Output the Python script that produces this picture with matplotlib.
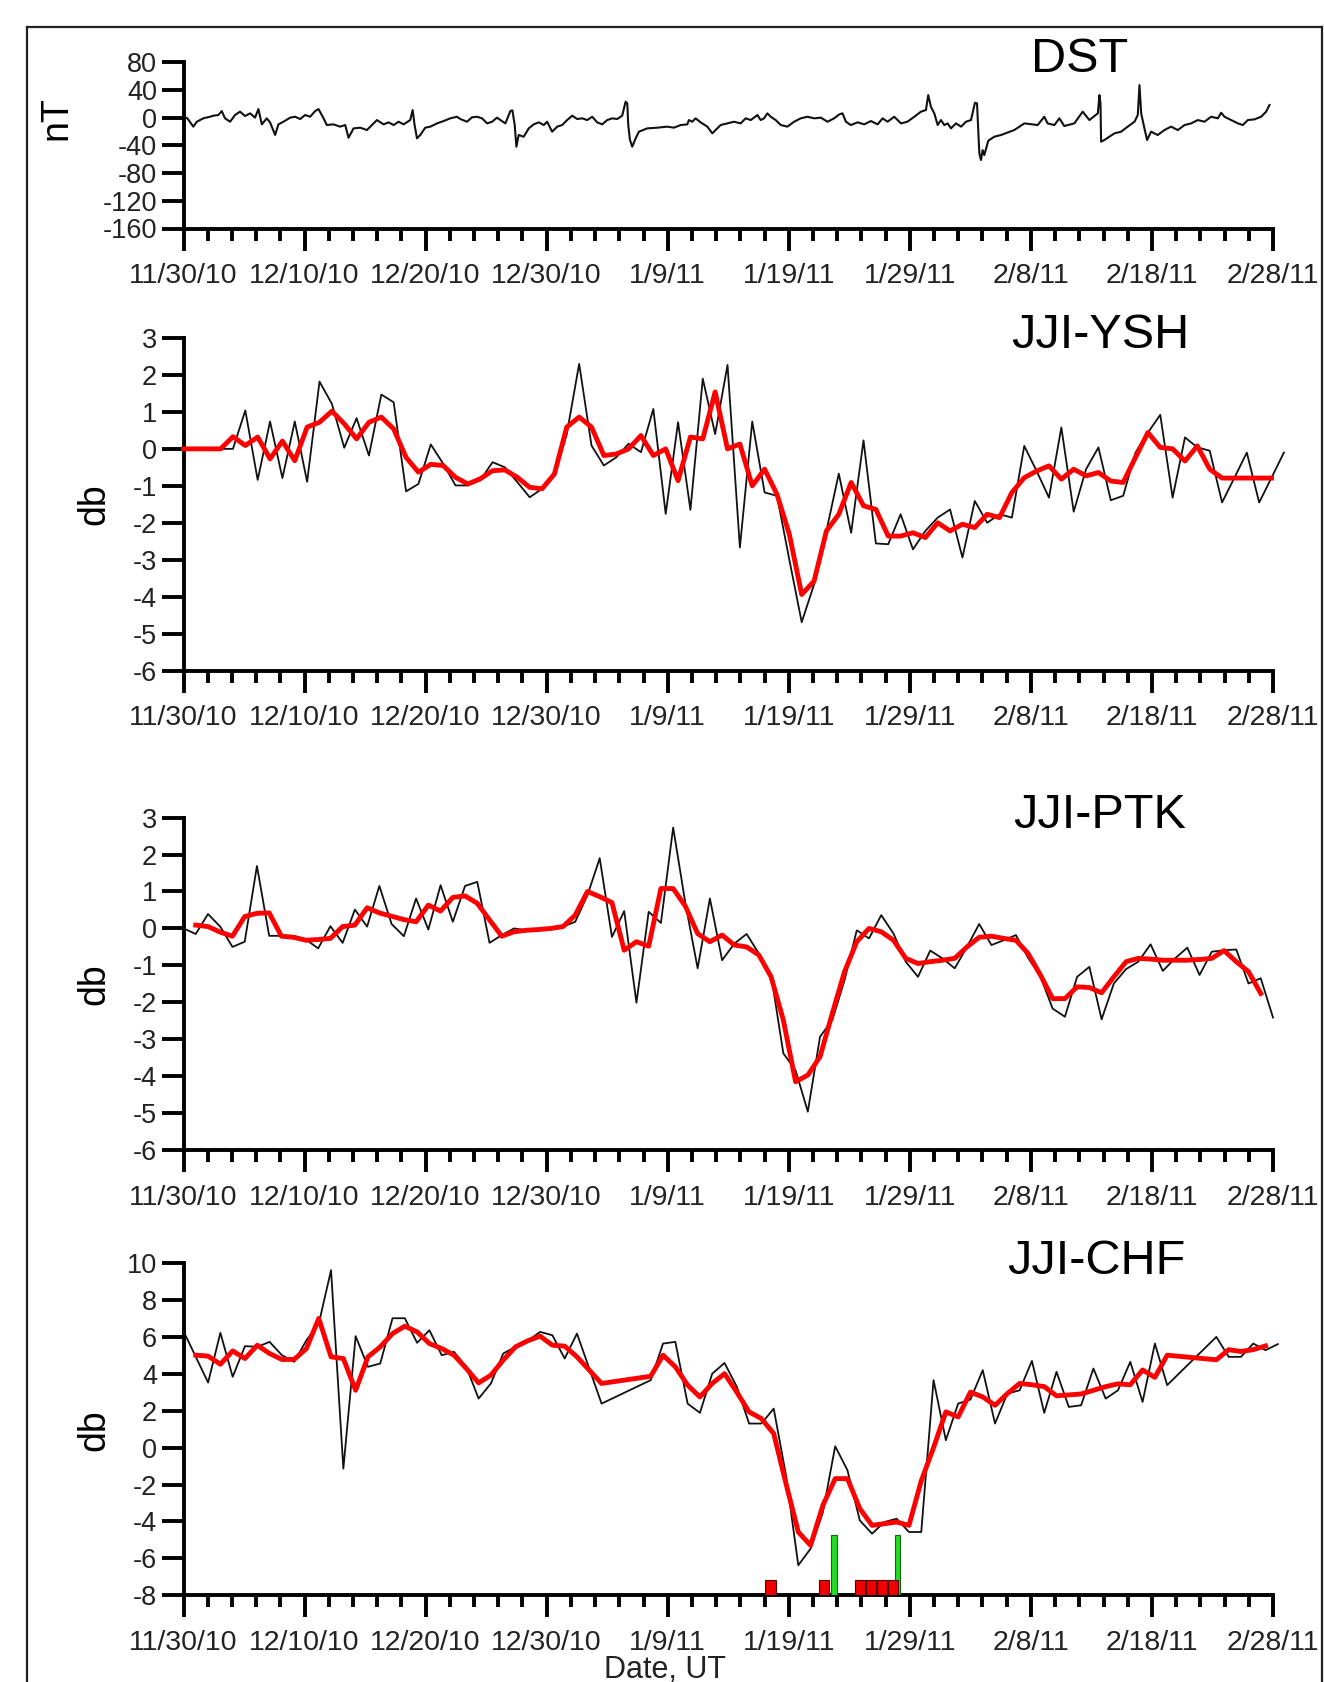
import numpy as np
import matplotlib
matplotlib.use("Agg")
import matplotlib.pyplot as plt
from matplotlib.lines import Line2D
from matplotlib.ticker import MultipleLocator

plt.rcParams['font.family'] = ['Liberation Sans', 'DejaVu Sans']

# ---------------- data ----------------
date_tick_days = [0, 10, 20, 30, 40, 50, 60, 70, 80, 90]
date_tick_labels = ['11/30/10', '12/10/10', '12/20/10', '12/30/10', '1/9/11',
                    '1/19/11', '1/29/11', '2/8/11', '2/18/11', '2/28/11']

# DST index (days since 11/30/10, nT)
dst_day = [0.0, 0.32, 0.81, 1.09, 1.64, 2.19, 2.47, 2.88, 3.16, 3.43, 3.85, 4.26, 4.67, 5.09,
           5.50, 5.91, 6.19, 6.47, 6.88, 7.15, 7.57, 7.84, 8.26, 8.81, 9.22, 9.64, 10.05,
           10.46, 10.88, 11.15, 11.57, 11.84, 12.39, 12.94, 13.36, 13.63, 14.05, 14.6, 15.15,
           15.56, 15.98, 16.53, 16.94, 17.36, 17.77, 18.18, 18.73, 18.93, 19.09, 19.29, 19.56,
           19.97, 20.39, 20.94, 21.49, 22.04, 22.59, 22.87, 23.42, 23.83, 24.25, 24.66, 25.08,
           25.49, 25.9, 26.18, 26.59, 27.0, 27.17, 27.36, 27.5, 27.69, 28.1, 28.52, 28.93,
           29.35, 29.76, 30.04, 30.45, 30.87, 31.28, 31.69, 32.11, 32.52, 32.93, 33.35, 33.76,
           34.17, 34.59, 35.0, 35.42, 35.83, 36.24, 36.52, 36.66, 36.74, 36.88, 37.07, 37.35,
           37.62, 38.31, 39.14, 39.96, 40.51, 41.07, 41.62, 41.75, 42.03, 42.3, 42.72, 43.27,
           43.68, 43.96, 44.37, 44.93, 45.48, 46.03, 46.44, 46.86, 47.41, 47.68, 47.96, 48.23,
           48.51, 48.92, 49.34, 49.89, 50.44, 50.99, 51.54, 52.1, 52.65, 53.2, 53.75, 54.17,
           54.44, 54.72, 55.13, 55.68, 56.23, 56.78, 57.34, 57.75, 58.16, 58.71, 59.27, 59.8,
           60.37, 60.92, 61.33, 61.52, 61.74, 62.02, 62.3, 62.57, 62.85, 63.12, 63.4, 63.81,
           64.23, 64.64, 65.05, 65.38, 65.55, 65.74, 65.88, 66.01, 66.15, 66.48, 66.98, 67.53,
           68.63, 69.46, 70.56, 71.11, 71.38, 71.94, 72.35, 72.76, 73.59, 74.28, 74.83, 75.53,
           75.66, 75.75, 75.8, 76.07, 76.49, 76.9, 77.45, 78.0, 78.56, 78.83, 78.97, 79.11,
           79.38, 79.6, 79.93, 80.48, 81.03, 81.58, 82.14, 82.69, 83.24, 83.79, 84.34, 84.89,
           85.44, 85.72, 85.99, 86.54, 87.1, 87.51, 87.92, 88.47, 89.02, 89.43, 89.71]
dst_nt = [1.3, -1, -13, -6, -1, 1.3, 2.8, 3.8, 9.5, -1, -5.9, 3.8, 8.6, 2.3,
          6.2, 0, 12.4, -9.7, -1, -6.8, -25, -9.7, -5.9, 0, 1.3, -2, 3.8,
          1.3, 9.5, 12.4, -1, -10.7, -9.7, -13, -10.7, -29, -15.5, -14.5, -17.9,
          -10.7, -3.5, -9.7, -6.8, -10.7, -5.9, -9.7, -3.5, 11, -10.7, -29.9, -25,
          -14.5, -13, -8.3, -4.9, -1, 1.3, -2, -5.9, 0.4, 1.3, -1, -8.3,
          -5.9, 0, -3.5, -8.3, 9.5, 10.5, -10.7, -42, -25, -27.6, -15.5, -9.7,
          -6.8, -10.7, -5.9, -20.3, -13, -10.7, -3.5, 2.8, -2, -1, -3.5, 1.3,
          -6.8, -9.7, -3.5, -1, -2, 2.8, 23, 20.6, -10.7, -32.3, -41.9, -29.9,
          -20.3, -15.5, -14.5, -13, -14.5, -10.7, -9.7, -3.5, -5.9, -1, -6.8, -13,
          -22.7, -17.9, -10.7, -8.3, -5.9, -8.3, -1, -3.5, 3.8, -3.5, -1, 6.2,
          1.3, -3.5, -10.7, -13, -5.9, -1, 1.3, -1, 0, -5.9, -1, 4.7,
          6.2, -5.9, -10.7, -6.8, -9.7, -4.9, -9.7, -1, -5.9, 1.3, -8.3, -5.9,
          1.3, 8.6, 11, 32.6, 15.8, 6.2, -10.7, -3.5, -10.7, -8.3, -15.5, -8.3,
          -13, -5.9, -3.5, 21.5, 20.6, -51.5, -61.2, -46.8, -54, -33.3, -27.5, -25.1,
          -17.9, -8.3, -10.7, 1.3, -8.3, -10.7, -1, -12.1, -8.3, 8.6, -3.5, 6.2,
          32.6, 20.6, -34.7, -32.3, -27.5, -22.7, -20.3, -13, -5.9, 3.8, 47, 6.2,
          -15.5, -32.3, -20.3, -25.1, -17.9, -13, -17.9, -10.7, -8.3, -3.5, -5.9, 1.3,
          -1, 7.1, 1.3, -3.5, -8.3, -10.7, -3.5, -2.5, 1.3, 8.6, 18.2]

# daily amplitude residuals (db); None = no sample
ysh_span = 90.9   # days covered by the YSH samples
ysh_black = [0, 0, 0, 0, 0, 1.04, -0.84, 0.74, -0.79, 0.74, -0.89, 1.82, 1.22, 0.03, 0.83,
             -0.18, 1.47, 1.26, -1.15, -0.95, 0.12, -0.4, -0.99, -0.99, -0.85, -0.36, -0.5,
             -0.9, -1.31, -1.08, -0.72, 0.4, 2.3, 0.09, -0.45, -0.23, 0.14, -0.09, 1.08, -1.76,
             0.72, -1.65, 1.9, 0.4, 2.27, -2.67, 0.74, -1.18, -1.27, -3.0, -4.69, -3.67, -2.22,
             -0.67, -2.27, 0.23, -2.56, -2.58, -1.77, -2.72, -2.22, -1.86, -1.64, -2.94, -1.41,
             -2.0, -1.77, -1.86, 0.08, -0.6, -1.32, 0.58, -1.70, -0.55, 0.04, -1.39, -1.27,
             -0.1, 0.44, 0.92, -1.32, 0.31, 0.04, -0.05, -1.45, -0.78, -0.1, -1.45, -0.78, -0.1]
ysh_red = [0, 0, 0, 0, 0.33, 0.09, 0.32, -0.27, 0.21, -0.32, 0.59, 0.72, 1.02, 0.68, 0.27,
           0.72, 0.86, 0.54, -0.23, -0.63, -0.42, -0.45, -0.77, -0.95, -0.81, -0.59, -0.57,
           -0.77, -1.04, -1.08, -0.68, 0.59, 0.86, 0.59, -0.18, -0.14, 0, 0.36, -0.18, 0,
           -0.86, 0.32, 0.27, 1.54, 0, 0.13, -1.0, -0.55, -1.23, -2.31, -3.94, -3.58, -2.22,
           -1.77, -0.91, -1.54, -1.64, -2.36, -2.36, -2.27, -2.4, -2.0, -2.22, -2.04, -2.13,
           -1.77, -1.86, -1.18, -0.78, -0.6, -0.46, -0.82, -0.55, -0.73, -0.64, -0.87, -0.91,
           -0.23, 0.44, 0.04, 0, -0.33, 0.08, -0.55, -0.79, -0.79, -0.79, -0.79, -0.79, None]

ptk_span = 90.0
ptk_black = [0.0, -0.15, 0.39, 0.05, -0.5, -0.36, 1.69, -0.2, -0.2, -0.2, -0.3, -0.54, 0.06,
             -0.39, 0.51, 0.05, 1.15, 0.12, -0.21, 0.81, -0.03, 1.17, 0.18, 1.15, 1.26, -0.39,
             -0.18, 0.0, -0.05, -0.05, 0.0, 0.05, 0.18, 0.9, 1.9, -0.23, 0.47, -2.01, 0.45,
             0.15, 2.73, 0.68, -1.08, 0.81, -0.86, -0.41, -0.15, -0.68, -1.26, -3.38, -3.84,
             -4.96, -2.93, -2.48, -1.4, -0.05, -0.27, 0.36, -0.14, -0.9, -1.31, -0.6, -0.81,
             -1.08, -0.5, 0.12, -0.45, -0.32, -0.18, -0.8, -1.3, -2.17, -2.39, -1.31, -1.04,
             -2.46, -1.49, -1.1, -0.9, -0.43, -1.15, -0.81, -0.52, -1.26, -0.63, -0.59, -0.57,
             -1.49, -1.35, -2.41]
ptk_red = [None, 0.09, 0.05, -0.1, -0.21, 0.32, 0.41, 0.42, -0.21, -0.24, -0.32, -0.3, -0.27,
           0.05, 0.09, 0.56, 0.42, 0.33, 0.24, 0.18, 0.63, 0.47, 0.84, 0.88, 0.68, 0.23, -0.21,
           -0.09, -0.05, -0.03, 0.0, 0.05, 0.36, 1.0, 0.86, 0.7, -0.59, -0.36, -0.48, 1.08,
           1.08, 0.6, -0.14, -0.36, -0.18, -0.45, -0.5, -0.72, -1.31, -2.48, -4.15, -3.97,
           -3.47, -2.3, -1.17, -0.36, 0.0, -0.09, -0.32, -0.81, -0.95, -0.9, -0.86, -0.81,
           -0.5, -0.24, -0.21, -0.27, -0.32, -0.68, -1.26, -1.9, -1.9, -1.58, -1.6, -1.74,
           -1.31, -0.9, -0.81, -0.83, -0.86, -0.86, -0.86, -0.84, -0.81, -0.6, -0.9, -1.17,
           -1.76, None]

chf_span = 90.4
chf_black = [6.3, None, 3.52, 6.21, 3.83, 5.49, 5.45, 5.72, 5.0, 4.64, 5.81, 6.7, 9.6, -1.14,
             6.03, 4.37, 4.55, 7.0, 7.0, 5.67, 6.35, 5.0, 5.18, 4.37, 2.65, 3.47, 5.09, 5.45,
             5.78, 6.26, 6.08, 4.82, 6.17, 4.28, 2.38, None, None, None, 3.65, 5.63, 5.72,
             2.38, 1.88, 4.0, 4.58, 3.29, 1.3, 1.3, 2.11, -1.5, -6.37, -5.47, -3.5, 0.07,
             -1.23, -3.94, -4.66, -4.03, -3.85, -4.57, -4.57, 3.65, 0.4, 2.38, 2.6, 4.19, 1.3,
             2.92, 3.1, 4.69, 1.88, 4.1, 2.2, 2.29, 4.28, 2.65, 3.1, 4.64, 2.47, 5.63, 3.38,
             None, None, None, 5.99, 4.91, 4.91, 5.63, 5.27, 5.6]
chf_red = [None, 5.0, 4.95, 4.51, 5.23, 4.82, 5.54, 5.09, 4.77, 4.77, 5.36, 6.99, 4.91, 4.82,
           3.1, 4.91, 5.45, 6.17, 6.57, 6.26, 5.63, 5.36, 5.0, 4.28, 3.5, 3.92, 4.73, 5.45,
           5.78, 6.03, 5.54, 5.49, 4.91, 4.19, 3.47, None, None, None, 3.86, 5.0, 4.37, 3.38,
           2.74, 3.47, 4.0, 3.0, 1.93, 1.57, 0.76, -1.95, -4.57, -5.29, -3.12, -1.68, -1.68,
           -3.3, -4.21, -4.12, -4.03, -4.21, -1.8, 0.0, 1.93, 1.66, 3.0, 2.74, 2.29, 2.92,
           3.47, 3.4, 3.3, 2.8, 2.85, 2.9, 3.1, 3.3, 3.45, 3.4, 4.2, 3.8, 5.0, None, None, None,
           4.75, 5.3, 5.2, 5.3, 5.5, None]

# event markers on the JJI-CHF panel (day, height above axis floor)
red_event_days = [48.5, 52.9, 55.9, 56.8, 57.7, 58.6]
red_event_height = 0.85
green_event_days = [53.75, 59.0]
green_event_height = 3.25

# ---------------- figure ----------------
W, H = 1324, 1682
fig = plt.figure(figsize=(W / 100, H / 100), dpi=100)

def px_axes(top_px, bot_px, left_px=183.5, right_px=1273):
    return fig.add_axes([left_px / W, 1 - bot_px / H, (right_px - left_px) / W, (bot_px - top_px) / H])

XTICK_FS = 20.5
YTICK_FS = 19.5
TITLE_FS = 35
LABEL_FS = 27
AX_LW = 2.8

def style_axes(ax, ylim, yticks):
    ax.set_xlim(0, 90)
    ax.set_ylim(*ylim)
    for s in ['top', 'right']:
        ax.spines[s].set_visible(False)
    for s in ['left', 'bottom']:
        ax.spines[s].set_linewidth(AX_LW)
        ax.spines[s].set_capstyle('projecting')
    ax.set_yticks(yticks)
    ax.set_yticklabels([str(v) for v in yticks])
    ax.set_xticks(date_tick_days)
    ax.set_xticklabels(date_tick_labels)
    ax.xaxis.set_minor_locator(MultipleLocator(2))
    ax.tick_params(axis='x', which='major', direction='out', length=16, width=AX_LW,
                   labelsize=XTICK_FS, pad=9, labelcolor='#222222')
    ax.tick_params(axis='x', which='minor', direction='out', length=8.5, width=AX_LW)
    ax.tick_params(axis='y', which='major', direction='out', length=16, width=AX_LW,
                   labelsize=YTICK_FS, pad=3, labelcolor='#222222')
    ax.patch.set_alpha(0)

def plot_series(ax, vals, span, **kw):
    t = np.linspace(0, span, len(vals))
    m = np.array([v is not None for v in vals])
    y = np.array([np.nan if v is None else v for v in vals], dtype=float)
    ax.plot(t[m], y[m], clip_on=False, **kw)

black_kw = dict(color='#111111', lw=1.3, zorder=3)
red_kw = dict(color='#ff0000', lw=3.5, zorder=4, solid_joinstyle='round')

def ftext(xpx, ypx, s, **kw):
    fig.text(xpx / W, 1 - ypx / H, s, ha='center', va='center', **kw)

# DST
ax1 = px_axes(62.2, 228.5)
style_axes(ax1, (-160, 80), [80, 40, 0, -40, -80, -120, -160])
ax1.plot(dst_day, dst_nt, color='#111111', lw=1.5, zorder=3)
ftext(1080, 59, 'DST', fontsize=TITLE_FS)
ftext(56, 118, 'nT', rotation=90, fontsize=LABEL_FS)

# YSH
ax2 = px_axes(338.0, 670.6)
style_axes(ax2, (-6, 3), list(range(3, -7, -1)))
plot_series(ax2, ysh_black, ysh_span, **black_kw)
plot_series(ax2, ysh_red, ysh_span, **red_kw)
ftext(1100, 335, 'JJI-YSH', fontsize=TITLE_FS)
ftext(94, 504, 'db', rotation=90, fontsize=LABEL_FS)

# PTK
ax3 = px_axes(817.6, 1150.1)
style_axes(ax3, (-6, 3), list(range(3, -7, -1)))
plot_series(ax3, ptk_black, ptk_span, **black_kw)
plot_series(ax3, ptk_red, ptk_span, **red_kw)
ftext(1100, 815, 'JJI-PTK', fontsize=TITLE_FS)
ftext(94, 984, 'db', rotation=90, fontsize=LABEL_FS)

# CHF
ax4 = px_axes(1262.8, 1595.4)
style_axes(ax4, (-8, 10), list(range(10, -9, -2)))
plot_series(ax4, chf_black, chf_span, **black_kw)
plot_series(ax4, chf_red, chf_span, **red_kw)
ax4.bar(green_event_days, [green_event_height] * len(green_event_days), bottom=-8,
        width=0.45, color='#22dd22', edgecolor='#116611', linewidth=0.8, zorder=5)
ax4.bar(red_event_days, [red_event_height] * len(red_event_days), bottom=-8,
        width=0.85, color='#ee0000', edgecolor='#550000', linewidth=0.8, zorder=6)
ftext(1096, 1261, 'JJI-CHF', fontsize=TITLE_FS)
ftext(94, 1430, 'db', rotation=90, fontsize=LABEL_FS)
ftext(665, 1670, 'Date, UT', fontsize=22, color='#222222')

# outer frame
fx0, fx1, fy0 = 27 / W, 1322 / W, 1 - 27 / H
for xs, ys in [([fx0, fx1], [fy0, fy0]), ([fx0, fx0], [fy0, -0.01]), ([fx1, fx1], [fy0, -0.01])]:
    fig.add_artist(Line2D(xs, ys, transform=fig.transFigure, color='#222222', lw=1.6))

fig.savefig('out.png', dpi=100, facecolor='white')
